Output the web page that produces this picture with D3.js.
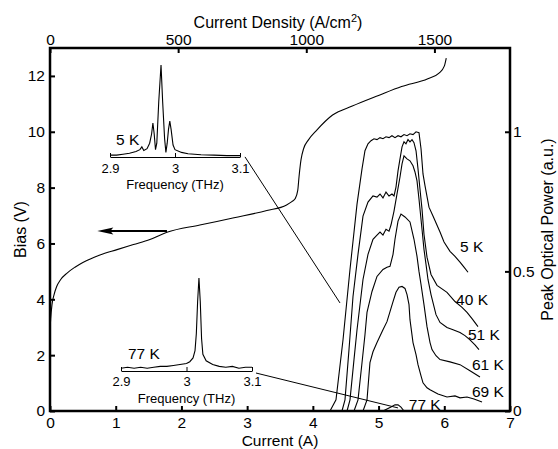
<!DOCTYPE html>
<html>
<head>
<meta charset="utf-8">
<script src="https://cdn.jsdelivr.net/npm/d3@7"></script>
<style>
  body { margin: 0; background: #fff; }
  svg { display: block; font-family: 'Liberation Sans', Arial, Helvetica, sans-serif; }
  .axis line { stroke: #000; stroke-width: 2; }
  .axis text { fill: #000; font-size: 15.5px; }
  .inset path.domain { stroke: #000; stroke-width: 1.2; }
  .inset line { stroke: #000; stroke-width: 1; }
  .inset text { fill: #000; font-size: 13px; }
  .curve { fill: none; stroke: #000; stroke-width: 1.1; }
</style>
</head>
<body>
<div id="chart"></div>
<script>
// bias (V) vs current (A)
let ivCurrent = [0, 0.01, 0.03, 0.06, 0.1, 0.16, 0.26, 0.38, 0.5, 0.76, 1.02, 1.27, 1.52, 1.78,
    2.28, 2.8, 3.3, 3.6, 3.68, 3.73, 3.77, 3.79, 3.82, 3.86, 3.93, 4.06, 4.3, 4.6, 5.0,
    5.35, 5.75, 5.92, 6.0, 6.03];
let ivBias = [2.9, 3.3, 3.8, 4.15, 4.45, 4.7, 4.94, 5.15, 5.32, 5.59, 5.78, 5.96, 6.14, 6.4,
    6.66, 6.92, 7.18, 7.38, 7.5, 7.6, 7.9, 8.4, 9.0, 9.4, 9.7, 10.06, 10.6, 10.92, 11.3,
    11.62, 11.9, 12.1, 12.35, 12.64];

// peak optical power (a.u.) vs current (A), one list per temperature
let power5K = [[4.261,0],[4.352,0.040],[4.459,0.255],[4.565,0.507],[4.672,0.741],[4.748,0.867],
    [4.793,0.932],[4.839,0.957],[4.885,0.968],[4.930,0.975],[4.976,0.972],[5.022,0.979],
    [5.067,0.975],[5.113,0.982],[5.159,0.979],[5.204,0.986],[5.250,0.979],[5.296,0.986],
    [5.341,0.982],[5.387,0.990],[5.433,0.986],[5.478,0.993],[5.524,0.990],[5.570,1.000],
    [5.615,0.997],[5.646,0.939],[5.676,0.849],[5.707,0.806],[5.767,0.730],[5.828,0.698],
    [5.935,0.641],[5.996,0.605],[6.087,0.572],[6.163,0.554],[6.239,0.533],[6.300,0.515],
    [6.361,0.497]];
let power40K = [[4.443,0],[4.489,0.040],[4.550,0.220],[4.611,0.410],[4.687,0.561],[4.763,0.698],
    [4.839,0.748],[4.915,0.770],[4.976,0.766],[5.022,0.777],[5.067,0.763],[5.113,0.784],
    [5.159,0.770],[5.204,0.777],[5.235,0.770],[5.265,0.802],[5.296,0.860],[5.326,0.903],
    [5.357,0.946],[5.387,0.964],[5.417,0.957],[5.448,0.972],[5.478,0.964],[5.509,0.972],
    [5.539,0.961],[5.570,0.932],[5.600,0.867],[5.630,0.795],[5.661,0.723],[5.691,0.633],
    [5.737,0.551],[5.798,0.489],[5.889,0.450],[6.041,0.425],[6.163,0.392],[6.270,0.371],
    [6.346,0.353],[6.422,0.331],[6.513,0.302]];
let power51K = [[4.520,0],[4.565,0.040],[4.626,0.184],[4.672,0.291],[4.763,0.471],[4.839,0.561],
    [4.915,0.615],[4.976,0.630],[5.022,0.641],[5.067,0.630],[5.113,0.651],[5.159,0.644],
    [5.189,0.666],[5.235,0.716],[5.280,0.777],[5.326,0.838],[5.357,0.885],[5.387,0.914],
    [5.433,0.903],[5.478,0.896],[5.524,0.878],[5.554,0.856],[5.585,0.824],[5.615,0.759],
    [5.661,0.651],[5.691,0.579],[5.722,0.525],[5.752,0.471],[5.798,0.417],[5.874,0.345],
    [5.935,0.317],[6.041,0.299],[6.133,0.291],[6.239,0.281],[6.315,0.270],[6.391,0.255],
    [6.467,0.237],[6.528,0.220]];
let power61K = [[4.626,0],[4.687,0.040],[4.748,0.173],[4.793,0.273],[4.824,0.353],[4.900,0.428],
    [4.976,0.482],[5.067,0.507],[5.128,0.515],[5.174,0.518],[5.220,0.561],[5.250,0.615],
    [5.296,0.680],[5.341,0.705],[5.402,0.695],[5.478,0.677],[5.539,0.615],[5.585,0.554],
    [5.615,0.500],[5.646,0.453],[5.691,0.381],[5.737,0.302],[5.783,0.245],[5.813,0.220],
    [5.874,0.198],[5.935,0.184],[6.087,0.176],[6.239,0.166],[6.391,0.144],[6.543,0.122]];
let power69K = [[4.763,0],[4.824,0.040],[4.869,0.173],[4.915,0.212],[4.976,0.245],[5.067,0.291],
    [5.128,0.320],[5.174,0.356],[5.220,0.392],[5.265,0.425],[5.311,0.443],[5.357,0.446],
    [5.402,0.439],[5.433,0.417],[5.463,0.381],[5.478,0.327],[5.524,0.245],[5.570,0.202],
    [5.600,0.166],[5.646,0.126],[5.676,0.101],[5.737,0.083],[5.783,0.076],[5.904,0.061],
    [6.041,0.050],[6.163,0.054],[6.239,0.047],[6.346,0.050],[6.452,0.043],[6.574,0.032]];
let power77K = [[5.067,0],[5.128,0.007],[5.189,0.014],[5.250,0.022],[5.296,0.022],[5.341,0.014],
    [5.387,0]];

let temperatures = ['5 K', '40 K', '51 K', '61 K', '69 K', '77 K'];
let powerSeries = [power5K, power40K, power51K, power61K, power69K, power77K];
// where each temperature label sits, [current, power]
let tempLabelAt = [[6.24,0.569],[6.18,0.381],[6.36,0.255],[6.42,0.148],[6.42,0.050],[5.46,0.004]];

// emission spectra (THz, normalised)
let spectrum5K = [[2.900,0.02],[2.910,0.02],[2.920,0.03],[2.930,0.04],[2.940,0.06],[2.946,0.08],
    [2.949,0.11],[2.952,0.07],[2.957,0.09],[2.961,0.15],[2.964,0.25],[2.966,0.37],[2.968,0.25],
    [2.970,0.08],[2.972,0.15],[2.975,0.6],[2.9785,1.0],[2.981,0.6],[2.984,0.2],[2.986,0.05],
    [2.988,0.15],[2.990,0.3],[2.992,0.39],[2.994,0.3],[2.997,0.13],[3.000,0.08],[3.01,0.05],
    [3.02,0.035],[3.04,0.025],[3.06,0.02],[3.08,0.015],[3.10,0.015]];
let spectrum77K = [[2.900,0.03],[2.910,0.04],[2.920,0.03],[2.930,0.04],[2.940,0.03],[2.950,0.04],
    [2.960,0.05],[2.970,0.05],[2.980,0.06],[2.990,0.07],[3.000,0.08],[3.005,0.10],[3.010,0.14],
    [3.013,0.22],[3.015,0.4],[3.017,0.75],[3.019,1.0],[3.021,0.75],[3.023,0.35],[3.025,0.18],
    [3.030,0.11],[3.04,0.07],[3.05,0.05],[3.06,0.04],[3.07,0.05],[3.08,0.03],[3.09,0.04],
    [3.10,0.04]];

let currentTicks = [0, 1, 2, 3, 4, 5, 6, 7];
let biasTicks = [0, 2, 4, 6, 8, 10, 12];
let powerTicks = [0, 0.5, 1];
let densityTicks = [0, 500, 1000, 1500];
let freqTicks = [2.9, 3, 3.1];
let deviceArea = 0.0039;   // cm^2, current -> current density

// the two connector lines from the insets, [current, bias]
let leader5K = [[2.967, 9.10], [4.413, 3.87]];
let leader77K = [[3.135, 1.36], [5.296, 0.11]];
let arrowBias = 6.45, arrowFrom = 1.78, arrowTo = 0.72;

let width = 558, height = 449;
let margin = {top: 48, left: 50, right: 48, bottom: 38};
let svg, x, xTop, yBias, yPower;

document.addEventListener('DOMContentLoaded', function() {
    svg = d3.select('#chart').append('svg')
        .attr('width', width)
        .attr('height', height);
    init();
});

function init() {
    let x0 = margin.left, x1 = width - margin.right;
    let y0 = height - margin.bottom, y1 = margin.top;

    x = d3.scaleLinear().domain([0, 7]).range([x0, x1]);
    xTop = d3.scaleLinear().domain([0, 7 / deviceArea]).range([x0, x1]);
    yBias = d3.scaleLinear().domain([0, 13]).range([y0, y1]);
    yPower = d3.scaleLinear().domain([0, 1.3]).range([y0, y1]);

    // axes, ticks inward
    svg.append('g').attr('class', 'axis')
        .attr('transform', `translate(0,${y0})`)
        .call(d3.axisBottom(x).tickValues(currentTicks).tickSizeInner(-5).tickSizeOuter(0)
            .tickPadding(6).tickFormat(d3.format('d')))
        .call(g => g.select('.domain').remove());
    svg.append('g').attr('class', 'axis')
        .attr('transform', `translate(0,${y1})`)
        .call(d3.axisTop(xTop).tickValues(densityTicks).tickSizeInner(-5).tickSizeOuter(0)
            .tickPadding(3).tickFormat(d3.format('d')))
        .call(g => g.select('.domain').remove());
    svg.append('g').attr('class', 'axis')
        .attr('transform', `translate(${x0},0)`)
        .call(d3.axisLeft(yBias).tickValues(biasTicks).tickSizeInner(-5).tickSizeOuter(0)
            .tickPadding(5).tickFormat(d3.format('d')))
        .call(g => g.select('.domain').remove());
    svg.append('g').attr('class', 'axis')
        .attr('transform', `translate(${x1},0)`)
        .call(d3.axisRight(yPower).tickValues(powerTicks).tickSizeInner(-5).tickSizeOuter(0)
            .tickPadding(3).tickFormat(d => String(d)))
        .call(g => g.select('.domain').remove());

    svg.append('rect')
        .attr('x', x0).attr('y', y1)
        .attr('width', x1 - x0).attr('height', y0 - y1)
        .attr('fill', 'none').attr('stroke', '#000').attr('stroke-width', 2.5);

    // axis titles
    let top = svg.append('text')
        .attr('x', 278).attr('y', 28)
        .attr('text-anchor', 'middle')
        .attr('font-size', 16);
    top.append('tspan').text('Current Density (A/cm');
    top.append('tspan').attr('font-size', 11).attr('dy', -6).text('2');
    top.append('tspan').attr('dy', 6).text(')');

    svg.append('text')
        .attr('x', (x0 + x1) / 2).attr('y', 446)
        .attr('text-anchor', 'middle')
        .attr('font-size', 15.5)
        .text('Current (A)');

    svg.append('text')
        .attr('transform', `translate(26,${(y0 + y1) / 2}) rotate(-90)`)
        .attr('text-anchor', 'middle')
        .attr('font-size', 16)
        .text('Bias (V)');

    svg.append('text')
        .attr('transform', `translate(553,${(y0 + y1) / 2}) rotate(-90)`)
        .attr('text-anchor', 'middle')
        .attr('font-size', 16)
        .text('Peak Optical Power (a.u.)');

    drawCurves();
    drawInset(spectrum5K, '5 K', [110, 240], [157, 65], 7, 116);
    drawInset(spectrum77K, '77 K', [121, 252], [371, 278], 6, 128);
}

function drawCurves() {
    let g = svg.append('g');

    // bias curve
    let ivLine = d3.line()
        .x(d => x(d[0]))
        .y(d => yBias(d[1]))
        .curve(d3.curveMonotoneX);
    g.append('path')
        .attr('class', 'curve')
        .attr('d', ivLine(ivCurrent.map((c, i) => [c, ivBias[i]])));

    // arrow pointing at the bias axis
    g.append('line')
        .attr('x1', x(arrowFrom)).attr('y1', yBias(arrowBias))
        .attr('x2', x(arrowTo) + 12).attr('y2', yBias(arrowBias))
        .attr('stroke', '#000').attr('stroke-width', 2);
    let tipX = x(arrowTo), tipY = yBias(arrowBias);
    g.append('path')
        .attr('d', `M${tipX},${tipY} L${tipX + 16},${tipY - 3.5} L${tipX + 13},${tipY} L${tipX + 16},${tipY + 3.5} Z`)
        .attr('fill', '#000');

    // optical power curves
    let pLine = d3.line()
        .x(d => x(d[0]))
        .y(d => yPower(d[1]));
    g.selectAll('.power')
        .data(powerSeries)
        .join('path')
        .attr('class', 'curve power')
        .attr('d', pLine);

    g.selectAll('.temp')
        .data(temperatures)
        .join('text')
        .attr('class', 'temp')
        .attr('x', (d, i) => x(tempLabelAt[i][0]))
        .attr('y', (d, i) => yPower(tempLabelAt[i][1]))
        .attr('font-size', 15.5)
        .text(d => d);

    // connectors from the insets
    [leader5K, leader77K].forEach(function(l) {
        g.append('line')
            .attr('x1', x(l[0][0])).attr('y1', yBias(l[0][1]))
            .attr('x2', x(l[1][0])).attr('y2', yBias(l[1][1]))
            .attr('stroke', '#000').attr('stroke-width', 1);
    });
}

function drawInset(spectrum, label, xr, yr, pad, labelX) {
    let fx = d3.scaleLinear().domain([2.9, 3.1]).range(xr);
    let fy = d3.scaleLinear().domain([0, 1]).range(yr);
    let g = svg.append('g');

    g.append('g').attr('class', 'inset')
        .attr('transform', `translate(0,${yr[0]})`)
        .call(d3.axisBottom(fx).tickValues(freqTicks).tickSizeInner(-4).tickSizeOuter(0)
            .tickPadding(pad).tickFormat(d => d === 3 ? '3' : d.toFixed(1)));

    g.append('path')
        .attr('class', 'curve')
        .attr('stroke-width', 1)
        .attr('d', d3.line().x(d => fx(d[0])).y(d => fy(d[1]))(spectrum));

    g.append('text')
        .attr('x', (xr[0] + xr[1]) / 2).attr('y', yr[0] + 32)
        .attr('text-anchor', 'middle')
        .attr('font-size', 13)
        .text('Frequency (THz)');

    g.append('text')
        .attr('x', labelX).attr('y', yr[0] - 12)
        .attr('font-size', 15.5)
        .text(label);
}
</script>
</body>
</html>
